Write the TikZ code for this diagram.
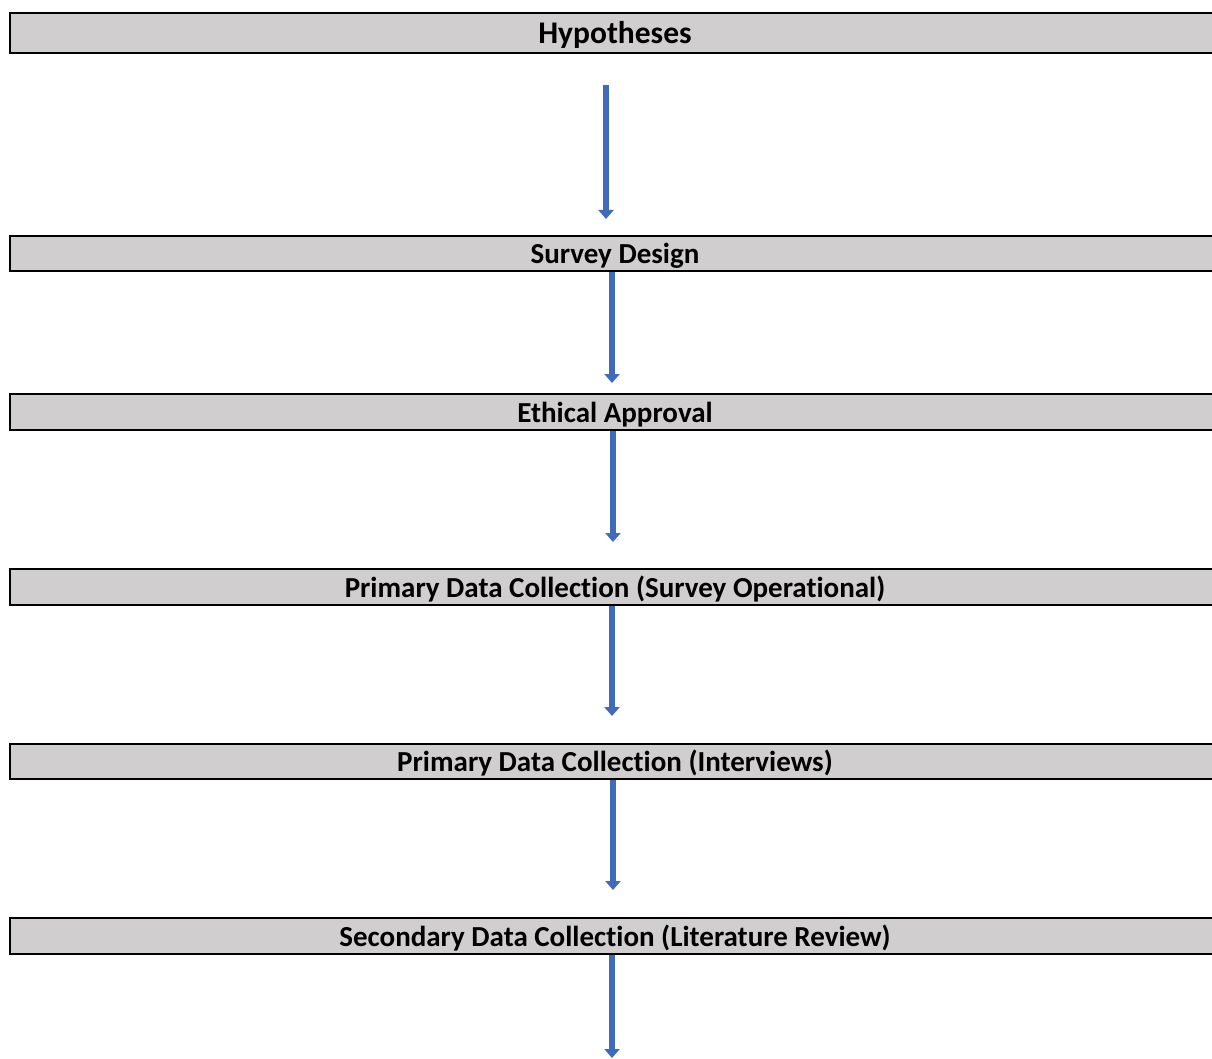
\documentclass[tikz,border=0pt]{standalone}
\usepackage{fontspec}
\setmainfont{Carlito}[Ligatures=NoCommon]
\usetikzlibrary{arrows.meta,positioning}
\definecolor{barfill}{RGB}{208,206,206}
\definecolor{flowblue}{RGB}{64,106,186}
\tikzset{
    stage/.style={
        rectangle,
        draw=black,
        fill=barfill,
        line width=2pt,
        minimum width=1210pt,
        font=\bfseries\fontsize{29}{34}\selectfont,
        text height=23pt,
        text depth=3pt,
        inner sep=0pt
    },
    flow/.style={
        draw=flowblue,
        line width=6.5pt,
        -{Triangle[width=15pt,length=9pt]}
    },
}
\begin{document}
\begin{tikzpicture}[x=1pt,y=-1pt]
    \useasboundingbox (0,0) rectangle (1212,1059);

    \node[stage,minimum height=40pt,text height=25pt,font=\bfseries\fontsize{31.5}{36}\selectfont] (hyp) at (615,33) {Hypotheses};
    \node[stage,minimum height=35pt] (survey) at (615,253.5) {Survey Design};
    \node[stage,minimum height=36pt] (ethics) at (615,412) {Ethical Approval};
    \node[stage,minimum height=36pt] (primsurvey) at (615,587) {Primary Data Collection (Survey Operational)};
    \node[stage,minimum height=35pt] (primint) at (615,761.5) {Primary Data Collection (Interviews)};
    \node[stage,minimum height=36pt] (second) at (615,936) {Secondary Data Collection (Literature Review)};
    \coordinate (tail) at (612,1058);

    % arrows between stages
    \draw[flow] ([xshift=-9pt,yshift=-31pt]hyp.south) -- ([xshift=-9pt,yshift=16pt]survey.north);
    \draw[flow] ([xshift=-3pt]survey.south) -- ([xshift=-3pt,yshift=10pt]ethics.north);
    \draw[flow] ([xshift=-2pt]ethics.south) -- ([xshift=-2pt,yshift=26pt]primsurvey.north);
    \draw[flow] ([xshift=-3pt]primsurvey.south) -- ([xshift=-3pt,yshift=27pt]primint.north);
    \draw[flow] ([xshift=-2pt]primint.south) -- ([xshift=-2pt,yshift=27pt]second.north);
    \draw[flow] ([xshift=-3pt]second.south) -- (tail);

\end{tikzpicture}
\end{document}
